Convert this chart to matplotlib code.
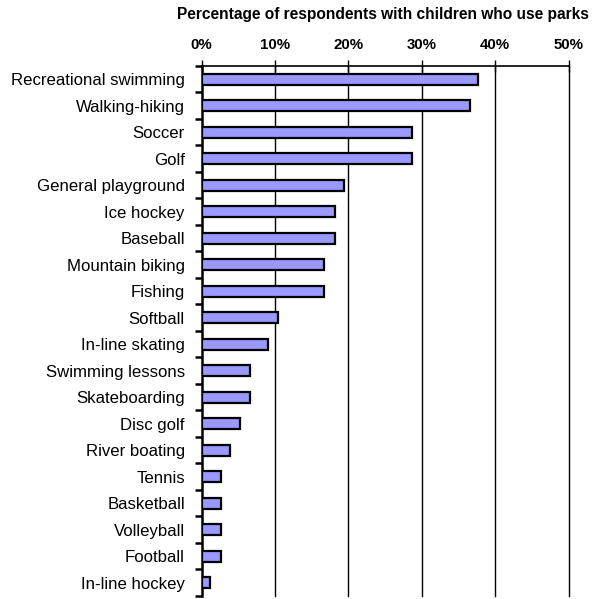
import numpy as np
import matplotlib
matplotlib.use("Agg")
import matplotlib.pyplot as plt
from matplotlib.ticker import FixedLocator, PercentFormatter

plt.rcParams['font.family'] = ['Liberation Sans', 'DejaVu Sans']

# data
activities = ["Recreational swimming", "Walking-hiking", "Soccer", "Golf",
              "General playground", "Ice hockey", "Baseball", "Mountain biking",
              "Fishing", "Softball", "In-line skating", "Swimming lessons",
              "Skateboarding", "Disc golf", "River boating", "Tennis",
              "Basketball", "Volleyball", "Football", "In-line hockey"]
pct = [37.7, 36.5, 28.7, 28.7, 19.4, 18.2, 18.2, 16.7, 16.7, 10.4,
       9.0, 6.6, 6.6, 5.2, 3.9, 2.7, 2.7, 2.7, 2.7, 1.2]
xticks = [0, 10, 20, 30, 40, 50]

fig = plt.figure(figsize=(5.98, 5.99), dpi=100)
ax = fig.add_axes([0.337, 0.005, 0.614, 0.885])

y = np.arange(len(activities))
ax.barh(y, pct, height=0.42, color='#9999ff', edgecolor='black', linewidth=1.6, zorder=3)

ax.set_ylim(len(activities) - 0.5, -0.5)
ax.set_xlim(0, 50)

# gridlines
for v in xticks[1:]:
    ax.axvline(v, color='black', linewidth=1.0, zorder=1, clip_on=False)

ax.xaxis.tick_top()
ax.set_xticks(xticks)
ax.xaxis.set_major_formatter(PercentFormatter(decimals=0))
ax.tick_params(axis='x', direction='inout', length=8, width=1.0, pad=6, labelsize=10.8)
for lbl in ax.get_xticklabels():
    lbl.set_fontweight('bold')

ax.set_yticks(y)
ax.set_yticklabels(activities, fontsize=12.1)
ax.tick_params(axis='y', which='major', length=0, pad=12)
ax.yaxis.set_minor_locator(FixedLocator(np.arange(len(activities) + 1) - 0.5))
ax.tick_params(axis='y', which='minor', direction='out', length=5, width=1.8)

for s in ['right', 'bottom']:
    ax.spines[s].set_visible(False)
ax.spines['top'].set_linewidth(1.2)
ax.spines['left'].set_linewidth(1.8)

fig.text(177 / 598, 1 - 14 / 599, "Percentage of respondents with children who use parks",
         fontsize=11.2, fontweight='bold', ha='left', va='center')

fig.savefig("out.png", dpi=100)
